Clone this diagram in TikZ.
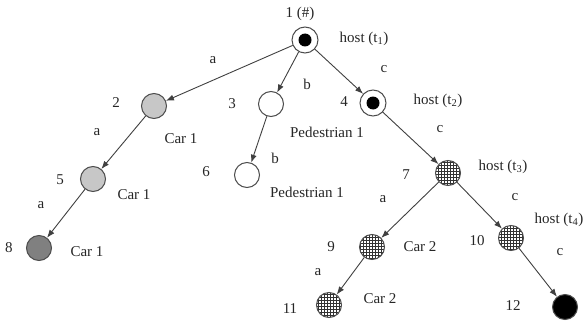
\documentclass[tikz,border=0pt]{standalone}
\usepackage{fontspec}
\setmainfont{Liberation Serif}
\usetikzlibrary{arrows.meta,patterns}
\begin{document}
\begin{tikzpicture}[x=1pt,y=-1pt,
 st/.style={circle,draw=black!70,line width=1pt,minimum size=25pt,inner sep=0pt},
 hostn/.style={st,fill=white,minimum size=26pt,path picture={\fill[black] (path picture bounding box.center) circle (6.5pt);}},
 carl/.style={st,fill=black!22},
 card/.style={st,fill=black!50},
 ped/.style={st,fill=white},
 hatch/.style={st,preaction={fill=white},pattern=grid,pattern color=black!80},
 blk/.style={st,fill=black},
 lbl/.style={font=\fontsize{15}{17}\selectfont,text=black!85,inner sep=0pt},
 conn/.style={draw=black!75,line width=0.9pt,-{Latex[length=8pt,width=6pt]}}
]
\useasboundingbox (0,0) rectangle (585,321);
% nodes
\node[hostn] (n1) at (305,40) {};
\node[carl] (n2) at (154,106) {};
\node[ped] (n3) at (271,104) {};
\node[hostn] (n4) at (373,103) {};
\node[carl] (n5) at (93,179) {};
\node[ped] (n6) at (247,175) {};
\node[hatch] (n7) at (448,173) {};
\node[card] (n8) at (39,248) {};
\node[hatch] (n9) at (372,247) {};
\node[hatch] (n10) at (511,238) {};
\node[hatch] (n11) at (329,305) {};
\node[blk] (n12) at (565,307) {};
% edges
\draw[conn] (n1) -- (n2);
\draw[conn] (n1) -- (n3);
\draw[conn] (n1) -- (n4);
\draw[conn] (n2) -- (n5);
\draw[conn] (n5) -- (n8);
\draw[conn] (n3) -- (n6);
\draw[conn] (n4) -- (n7);
\draw[conn] (n7) -- (n9);
\draw[conn] (n7) -- (n10);
\draw[conn] (n9) -- (n11);
\draw[conn] (n10) -- (n12);
% number labels
\node[lbl] (l1) at (300,14) {1 (\#)};
\node[lbl] (l2) at (116,103) {2};
\node[lbl] (l3) at (232,104) {3};
\node[lbl] (l4) at (344,102) {4};
\node[lbl] (l5) at (60,180) {5};
\node[lbl] (l6) at (206,172) {6};
\node[lbl] (l7) at (406,175) {7};
\node[lbl] (l8) at (9,248) {8};
\node[lbl] (l9) at (331,247) {9};
\node[lbl] (l10) at (477,241) {10};
\node[lbl] (l11) at (290,309) {11};
\node[lbl] (l12) at (513,306) {12};
% text labels
\node[lbl] (h1) at (364,39) {host (t\textsubscript{1})};
\node[lbl] (h2) at (438,101) {host (t\textsubscript{2})};
\node[lbl] (h3) at (503,167) {host (t\textsubscript{3})};
\node[lbl] (h4) at (559,220) {host (t\textsubscript{4})};
\node[lbl] (c2) at (181,139) {Car 1};
\node[lbl] (c5) at (134,195) {Car 1};
\node[lbl] (c8) at (87,252) {Car 1};
\node[lbl] (p3) at (327,132) {Pedestrian 1};
\node[lbl] (p6) at (307,192) {Pedestrian 1};
\node[lbl] (c9) at (420,247) {Car 2};
\node[lbl] (c11) at (380,299) {Car 2};
% edge letters
\node[lbl] (e12) at (213,60) {a};
\node[lbl] (e13) at (307,84) {b};
\node[lbl] (e14) at (384,69) {c};
\node[lbl] (e25) at (97,132) {a};
\node[lbl] (e58) at (41,205) {a};
\node[lbl] (e36) at (275,158) {b};
\node[lbl] (e47) at (440,129) {c};
\node[lbl] (e79) at (383,199) {a};
\node[lbl] (e710) at (515,197) {c};
\node[lbl] (e911) at (318,272) {a};
\node[lbl] (e1012) at (560,252) {c};
\end{tikzpicture}
\end{document}
